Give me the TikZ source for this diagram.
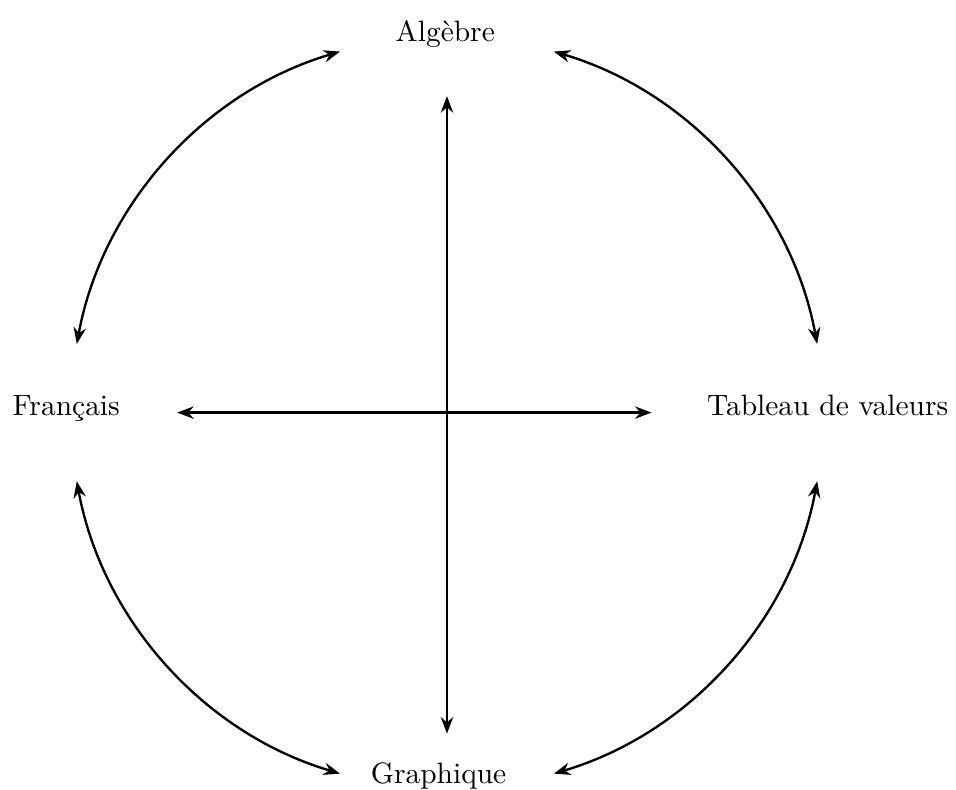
\documentclass[tikz,border=0pt]{standalone}
\usepackage{fontspec}
\usepackage{tikz}
\usetikzlibrary{arrows.meta,calc,positioning}

\begin{document}
\begin{tikzpicture}[>={Stealth[length=5.6pt,width=4.2pt]}, fleche/.style={<->, thick}]
    \useasboundingbox (-5.33,-4.49) rectangle (6.07,4.92);

    % Centre of the circle
    \coordinate (c) at (0,0);

    % The four representations
    \node[anchor=base] (alg) at (-0.02,4.43) {Algèbre};
    \node[anchor=base] (gra) at (-0.10,-4.42) {Graphique};
    \node[anchor=base] (fr) at (-4.54,-0.04) {Français};
    \node[anchor=base] (tab) at (4.54,-0.04) {Tableau de valeurs};

    % Cross in the middle
    \draw[fleche, shorten <=0.46cm, shorten >=0.22cm] (alg.south -| c) -- (gra.north -| c);
    \draw[fleche, shorten <=0.56cm, shorten >=0.54cm] (fr.east |- c) -- (tab.west |- c);

    % Arcs between neighbours
    \draw[fleche] (c) ++(169.5:4.49) arc[start angle=169.5, end angle=106.5, radius=4.49];
    \draw[fleche] (c) ++(73.5:4.49) arc[start angle=73.5, end angle=10.5, radius=4.49];
    \draw[fleche] (c) ++(-10.5:4.49) arc[start angle=-10.5, end angle=-73.5, radius=4.49];
    \draw[fleche] (c) ++(-106.5:4.49) arc[start angle=-106.5, end angle=-169.5, radius=4.49];

\end{tikzpicture}
\end{document}
